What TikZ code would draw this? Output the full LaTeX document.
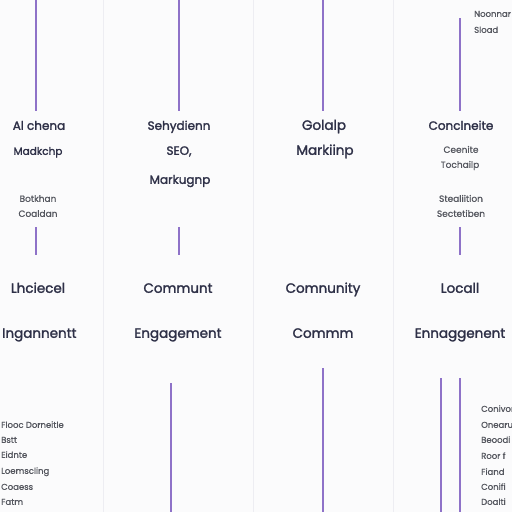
\documentclass[tikz,border=0pt]{standalone}
\usepackage{fontspec}
\setmainfont{Poppins}[FakeBold=1.8]
\newfontfamily\smallfont{Poppins}[FakeBold=1.0]
\definecolor{bgc}{HTML}{FBFBFC}
\definecolor{sepc}{HTML}{EDEDF2}
\definecolor{purp}{HTML}{8E72C8}
\definecolor{ink}{HTML}{2E3047}
\definecolor{grey}{HTML}{55575F}
\tikzset{
  vline/.style={draw=purp, line width=1.3pt},
  sep/.style={draw=sepc, line width=1pt},
  txt/.style={inner sep=0pt, text height=1.4ex, text depth=0pt},
  big/.style={txt, text=ink, font=\fontsize{13.5}{16}\selectfont},
  mid/.style={txt, text=ink, font=\fontsize{12}{14}\selectfont},
  sml/.style={txt, text=grey, font=\smallfont\fontsize{9}{11}\selectfont},
  lst/.style={txt, text=grey, font=\smallfont\fontsize{8.5}{10}\selectfont, anchor=west},
}
\begin{document}
\begin{tikzpicture}[x=1pt,y=-1pt]
\fill[bgc] (0,0) rectangle (512,512);
\useasboundingbox (0,0) rectangle (512,512);
% column separators
\foreach \x in {103,253,393} \draw[sep] (\x,0) -- (\x,512);
% purple lines
\draw[vline] (36,0) -- (36,111);
\draw[vline] (36,227) -- (36,255);
\draw[vline] (179,0) -- (179,111);
\draw[vline] (179,227) -- (179,255);
\draw[vline] (171,383) -- (171,512);
\draw[vline] (323,0) -- (323,111);
\draw[vline] (323,368) -- (323,512);
\draw[vline] (460,18) -- (460,111);
\draw[vline] (460,227) -- (460,255);
\draw[vline] (441,378) -- (441,512);
\draw[vline] (460,378) -- (460,512);
% column 1
\node[mid] (a1) at (39,126) {Al chena};
\node[mid, font=\fontsize{10.5}{12}\selectfont] (a2) at (38,151) {Madkchp};
\node[sml] (a3) at (38,198) {Botkhan};
\node[sml] (a4) at (38,213) {Coaldan};
% column 2
\node[mid] (b1) at (179,126) {Sehydienn};
\node[mid] (b2) at (179,151) {SEO,};
\node[mid] (b3) at (180,180) {Markugnp};
% column 3
\node[big] (c1) at (324,126) {Golalp};
\node[big] (c2) at (325,151) {Markiinp};
% column 4
\node[mid] (d1) at (461,126) {Conclneite};
\node[sml] (d2) at (461,149) {Ceenite};
\node[sml] (d3) at (460,164) {Tochailp};
\node[sml] (d4) at (461,198) {Stealiition};
\node[sml] (d5) at (461,213) {Sectetiben};
% row 2
\node[big] (e1) at (38,289) {Lhciecel};
\node[big, anchor=west] (e2) at (2,334) {Ingannentt};
\node[big] (f1) at (178,289) {Communt};
\node[big] (f2) at (178,334) {Engagement};
\node[big] (g1) at (323,289) {Comnunity};
\node[big] (g2) at (323,334) {Commm};
\node[big] (h1) at (460,289) {Locall};
\node[big] (h2) at (460,334) {Ennaggenent};
% top right
\node[lst] (t1) at (474,13) {Noonnar};
\node[lst] (t2) at (474,29) {Sload};
% bottom left list
\node[lst] (l1) at (1,424) {Flooc Dorneitle};
\node[lst] (l2) at (1,439) {Bstt};
\node[lst] (l3) at (1,454) {Eidnte};
\node[lst] (l4) at (1,470) {Loemscling};
\node[lst] (l5) at (1,486) {Coaess};
\node[lst] (l6) at (1,501) {Fatm};
% bottom right list
\node[lst] (r1) at (481,408) {Conivor};
\node[lst] (r2) at (481,424) {Onearu};
\node[lst] (r3) at (481,439) {Beoodi};
\node[lst] (r4) at (481,455) {Roor f};
\node[lst] (r5) at (481,471) {Fiand};
\node[lst] (r6) at (481,486) {Conifi};
\node[lst] (r7) at (481,501) {Doalti};
\end{tikzpicture}
\end{document}
